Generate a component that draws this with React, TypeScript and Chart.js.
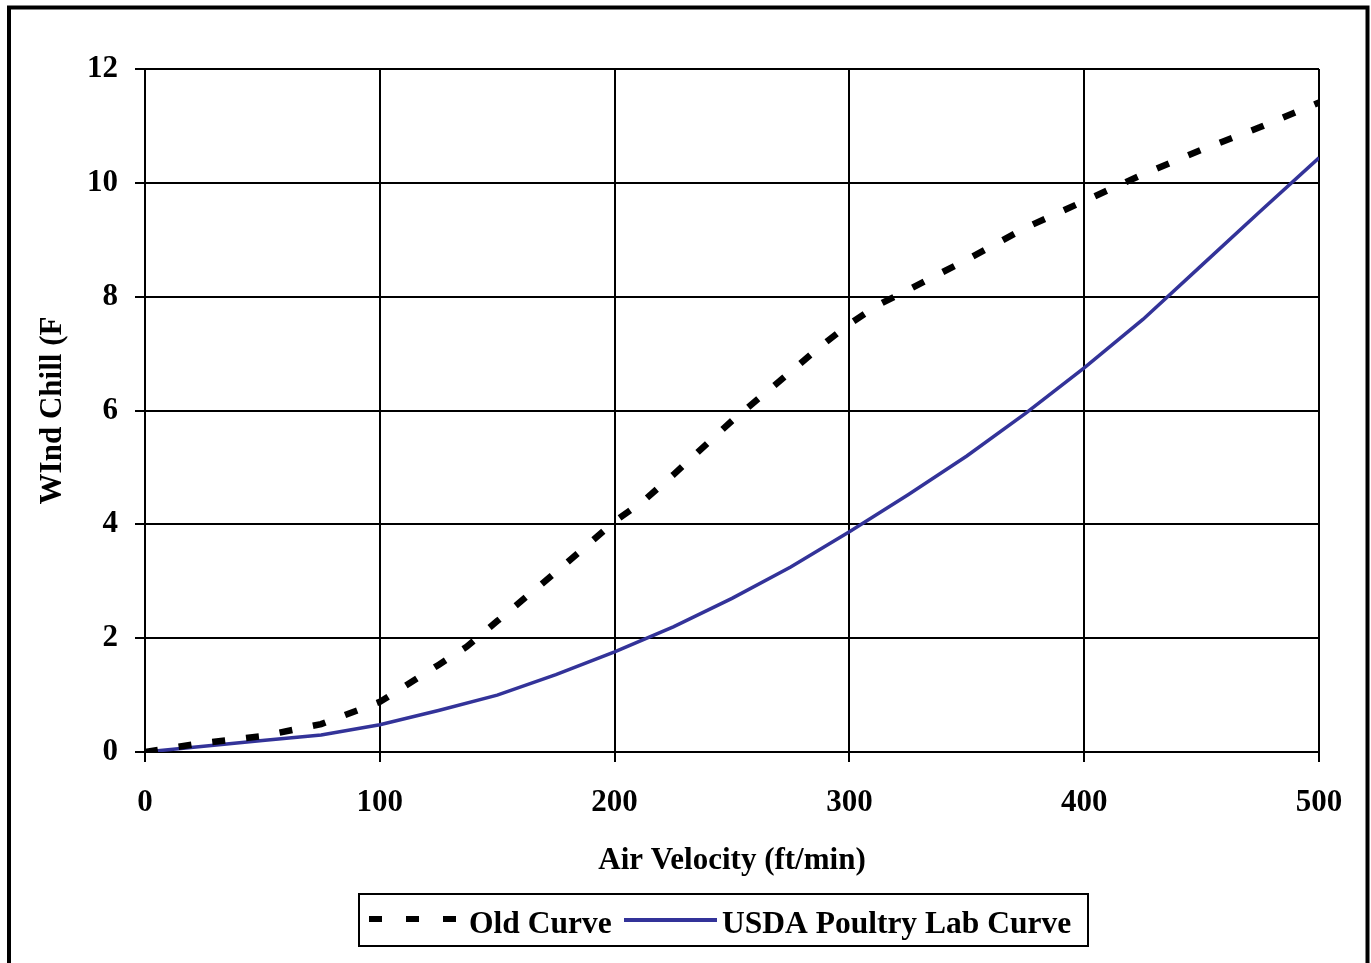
import React, { useEffect, useRef } from "react";
import { Chart, registerables } from "chart.js";

Chart.register(...registerables);

// ---- data ----
const oldVelocity = [0, 25, 50, 75, 100, 125, 137, 150, 175, 200, 212, 225, 250, 275, 287.5, 300, 312.5, 325, 350, 375, 400, 425, 450, 475, 500];
const oldWindChill = [0, 0.16, 0.28, 0.49, 0.88, 1.53, 1.85, 2.3, 3.16, 4.05, 4.4, 4.87, 5.82, 6.68, 7.12, 7.52, 7.86, 8.12, 8.65, 9.21, 9.68, 10.15, 10.58, 10.98, 11.41];
const usdaVelocity = [0, 25, 50, 75, 100, 125, 150, 175, 200, 225, 250, 275, 300, 325, 350, 375, 400, 425, 450, 475, 500];
const usdaWindChill = [0, 0.1, 0.2, 0.3, 0.48, 0.73, 1.0, 1.36, 1.76, 2.2, 2.7, 3.25, 3.87, 4.52, 5.2, 5.95, 6.75, 7.6, 8.55, 9.5, 10.44];
const seriesLabels = ["Old Curve", "USDA Poultry Lab Curve"];
const xAxisTitle = "Air Velocity (ft/min)";
const yAxisTitle = "WInd Chill (F";
const xRange = [0, 500];
const xStep = 100;
const yRange = [0, 12];
const yStep = 2;

const FONT = '"Liberation Serif", "Times New Roman", serif';
const W = 1371;
const H = 963;

const frameAndLegend = {
  id: "frameAndLegend",
  beforeDraw(chart: any) {
    const ctx = chart.ctx;
    ctx.save();
    ctx.fillStyle = "#fff";
    ctx.fillRect(0, 0, chart.width, chart.height);
    ctx.restore();
  },
  afterDraw(chart: any) {
    const ctx = chart.ctx;
    ctx.save();
    // outer frame
    ctx.strokeStyle = "#000";
    ctx.lineWidth = 4;
    ctx.strokeRect(9, 7.5, 1358.5, 1000);
    // legend box
    ctx.lineWidth = 2;
    ctx.strokeRect(359, 894, 729, 52);
    const items = [
      { x0: 369, x1: 456, y: 919, tx: 469 },
      { x0: 624, x1: 717, y: 920, tx: 722 },
    ];
    chart.data.datasets.forEach((ds: any, i: number) => {
      const it = items[i];
      if (!it) return;
      ctx.save();
      ctx.strokeStyle = ds.borderColor;
      ctx.lineWidth = i === 0 ? 6 : 4;
      ctx.lineCap = "butt";
      ctx.setLineDash(i === 0 ? [13, 24] : []);
      ctx.beginPath();
      ctx.moveTo(it.x0, it.y);
      ctx.lineTo(it.x1, it.y);
      ctx.stroke();
      ctx.restore();
      ctx.fillStyle = "#000";
      ctx.font = `bold 31.5px ${FONT}`;
      ctx.textBaseline = "alphabetic";
      ctx.textAlign = "left";
      ctx.fillText(ds.label, it.tx, 932.5);
    });
    ctx.restore();
  },
};

export default function App() {
  const ref = useRef<HTMLCanvasElement | null>(null);

  useEffect(() => {
    if (!ref.current) return;
    const chart = new Chart(ref.current, {
      type: "line",
      data: {
        datasets: [
          {
            label: seriesLabels[0],
            data: oldVelocity.map((x, i) => ({ x, y: oldWindChill[i] })),
            borderColor: "#000000",
            backgroundColor: "#000000",
            borderWidth: 6.5,
            borderDash: [13, 21],
            borderCapStyle: "butt",
            pointRadius: 0,
            tension: 0,
            fill: false,
          },
          {
            label: seriesLabels[1],
            data: usdaVelocity.map((x, i) => ({ x, y: usdaWindChill[i] })),
            borderColor: "#333399",
            backgroundColor: "#333399",
            borderWidth: 3.5,
            pointRadius: 0,
            tension: 0,
            fill: false,
          },
        ],
      },
      options: {
        responsive: false,
        animation: false,
        devicePixelRatio: 1,
        layout: { padding: { left: 0, top: 69, right: 52, bottom: 0 } },
        plugins: {
          legend: { display: false },
          tooltip: { enabled: false },
        },
        scales: {
          x: {
            type: "linear",
            min: xRange[0],
            max: xRange[1],
            ticks: {
              stepSize: xStep,
              color: "#000",
              font: { family: FONT, size: 31, weight: "bold" },
              padding: 22,
              maxRotation: 0,
            },
            grid: { color: "#000", lineWidth: 2, tickLength: 10, drawTicks: true },
            border: { color: "#000", width: 2 },
            title: {
              display: true,
              text: xAxisTitle,
              color: "#000",
              font: { family: FONT, size: 31, weight: "bold" },
              padding: { top: 0, bottom: 83 },
            },
            afterFit: (scale: any) => {
              scale.height = H - 752;
            },
          },
          y: {
            type: "linear",
            min: yRange[0],
            max: yRange[1],
            ticks: {
              stepSize: yStep,
              color: "#000",
              font: { family: FONT, size: 31, weight: "bold" },
              padding: 17,
            },
            grid: { color: "#000", lineWidth: 2, tickLength: 10, drawTicks: true },
            border: { color: "#000", width: 2 },
            title: {
              display: true,
              text: yAxisTitle,
              color: "#000",
              font: { family: FONT, size: 31, weight: "bold" },
              padding: { top: 34, bottom: 0 },
            },
            afterFit: (scale: any) => {
              scale.width = 145;
            },
          },
        },
      },
      plugins: [frameAndLegend],
    } as any);
    return () => chart.destroy();
  }, []);

  return (
    <div style={{ position: "absolute", left: 0, top: 0, width: W, height: H, background: "#fff" }}>
      <canvas ref={ref} width={W} height={H} style={{ width: W, height: H, display: "block" }} />
    </div>
  );
}
